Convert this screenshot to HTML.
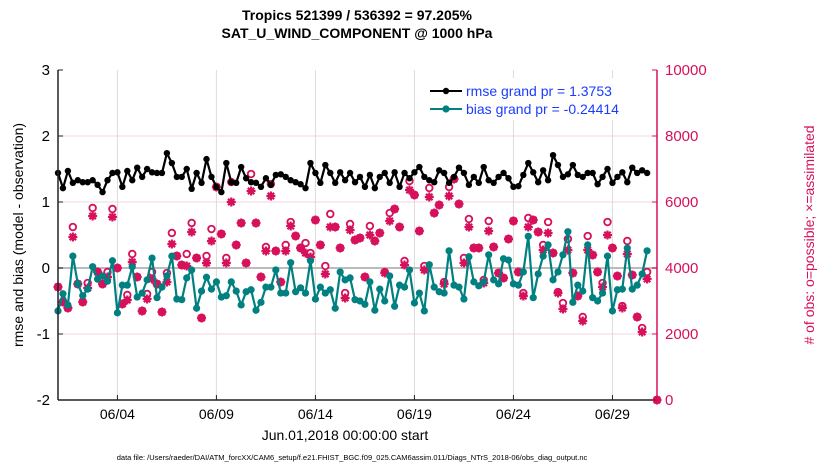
<!DOCTYPE html>
<html><head><meta charset="utf-8"><style>
body{margin:0;background:#fff;}
svg{display:block;font-family:"Liberation Sans",sans-serif;}
</style></head><body>
<svg id="chart" width="830" height="470" viewBox="0 0 830 470" xmlns="http://www.w3.org/2000/svg">
<text x="357" y="20" text-anchor="middle" font-size="14" font-weight="bold">Tropics 521399 / 536392 = 97.205%</text>
<text x="357" y="38" text-anchor="middle" font-size="14" font-weight="bold">SAT_U_WIND_COMPONENT @ 1000 hPa</text>
<g id="grid"></g>
<g id="series"></g>
<g id="axes"></g>
<g>
<rect x="424" y="78" width="230" height="42" fill="#fff"/>
<line x1="430" y1="91" x2="462" y2="91" stroke="#000" stroke-width="2"/>
<circle cx="446" cy="91" r="3.2" fill="#000"/>
<text x="466" y="96" font-size="14" fill="#1a3cff">rmse grand pr = 1.3753</text>
<line x1="430" y1="109" x2="462" y2="109" stroke="#008080" stroke-width="2"/>
<circle cx="446" cy="109" r="3.6" fill="#008080"/>
<text x="466" y="114" font-size="14" fill="#1a3cff">bias grand pr = -0.24414</text>
</g>
<text transform="translate(23,235) rotate(-90)" text-anchor="middle" font-size="14">rmse and bias (model - observation)</text>
<text transform="translate(814,235) rotate(-90)" text-anchor="middle" font-size="14" fill="#d6105a"># of obs: o=possible; ×=assimilated</text>
<text x="345" y="440" text-anchor="middle" font-size="14">Jun.01,2018 00:00:00 start</text>
<text x="352" y="460" text-anchor="middle" font-size="7.5">data file: /Users/raeder/DAI/ATM_forcXX/CAM6_setup/f.e21.FHIST_BGC.f09_025.CAM6assim.011/Diags_NTrS_2018-06/obs_diag_output.nc</text>
</svg>
<script>
const rmse=[1.44,1.21,1.47,1.29,1.33,1.30,1.30,1.33,1.26,1.15,1.33,1.44,1.45,1.23,1.47,1.33,1.52,1.38,1.50,1.45,1.44,1.44,1.74,1.59,1.38,1.38,1.50,1.20,1.44,1.29,1.65,
1.38,1.23,1.15,1.59,1.30,1.29,1.53,1.36,1.30,1.29,1.23,1.36,1.26,1.41,1.42,1.38,1.33,1.30,1.27,1.21,1.59,1.44,1.29,1.56,1.44,1.29,1.45,1.33,1.44,1.30,
1.38,1.23,1.41,1.21,1.38,1.44,1.29,1.45,1.23,1.44,1.36,1.45,1.53,1.38,1.33,1.30,1.48,1.44,1.29,1.38,1.52,1.44,1.26,1.38,1.29,1.53,1.33,1.29,1.38,1.44,
1.36,1.23,1.24,1.41,1.59,1.45,1.30,1.48,1.33,1.71,1.56,1.38,1.42,1.56,1.41,1.38,1.44,1.44,1.27,1.38,1.50,1.29,1.38,1.45,1.30,1.52,1.44,1.48,1.44];
const bias=[-0.65,-0.39,-0.56,0.18,-0.24,-0.42,-0.32,0.02,-0.17,-0.12,-0.20,0.11,-0.68,-0.26,-0.26,0.02,-0.44,-0.38,-0.18,0.15,-0.45,-0.29,-0.12,0.18,-0.47,-0.48,-0.15,-0.03,-0.61,-0.35,-0.14,
-0.32,-0.21,-0.44,-0.42,-0.21,-0.35,-0.56,-0.36,-0.33,-0.64,-0.52,-0.29,-0.29,-0.03,-0.38,-0.38,0.08,-0.36,-0.30,-0.38,0.11,-0.47,-0.29,-0.38,-0.33,-0.61,-0.06,-0.18,-0.15,-0.48,
-0.50,-0.55,-0.21,-0.64,-0.32,-0.50,-0.12,-0.58,-0.26,-0.29,-0.03,-0.53,-0.38,-0.65,0.05,-0.29,-0.36,-0.38,0.26,-0.26,-0.29,-0.47,0.17,-0.21,-0.27,-0.21,0.20,-0.18,-0.24,0.14,
0.12,-0.24,-0.26,-0.06,0.48,-0.45,-0.09,0.18,0.35,-0.18,-0.06,0.20,0.55,-0.52,-0.26,-0.35,0.35,-0.45,-0.50,-0.38,0.18,-0.65,-0.33,-0.32,0.30,-0.32,-0.26,-0.09,0.26];
const assimilated=[3424,2970,2788,4939,3515,2970,3394,5576,3879,3515,3727,5545,4000,2909,3030,4182,3727,2697,3061,3667,3515,2667,3576,4727,4364,4091,4061,5091,4303,2485,4152,
4818,6454,5030,4151,6000,4697,5363,4151,6333,5363,3727,4515,6181,4515,3575,4515,5272,4969,4606,4454,4333,5454,4697,3818,5242,5242,4606,3091,5151,4848,
4909,3727,5000,4818,5060,3848,5424,5787,5242,4090,6363,6212,5121,3939,6151,5666,5909,3515,6181,6696,5939,4151,5242,4606,4606,3545,5121,4636,3848,3697,
4878,5424,3878,3151,5242,5454,5090,4545,5060,4454,3242,2757,4545,3848,3151,2394,4545,4393,3878,3424,5000,4606,3757,2788,4424,3787,2515,2060,3666,0];
const possible=[3424,2970,2788,5242,3515,2970,3545,5818,3879,3515,3879,5788,4000,2909,3182,4424,3727,2697,3212,3879,3515,2667,3848,5061,4364,4091,4424,5364,4303,2485,4364,
5181,6454,5030,4303,6605,4697,5363,4151,6848,5363,3727,4636,6545,4515,3575,4697,5393,4969,4606,4757,4454,5454,4697,4060,5636,5242,4606,3242,5333,4848,
4909,3727,5272,4818,5060,3878,5666,5787,5242,4212,6636,6212,5121,4060,6424,5666,5909,3575,6454,6696,5939,4303,5484,4606,4606,3636,5424,4636,3848,3697,
4878,5424,3878,3242,5515,5454,5090,4697,5393,4454,3272,2939,4878,3848,3151,2515,4969,4393,3878,3545,5393,4606,3757,2848,4818,3787,2515,2181,3878,0];
const leftTicks=[-2,-1,0,1,2,3];
const rightTicks=[0,2000,4000,6000,8000,10000];
const dateTickDays=[3,8,13,18,23,28];
const dateTickLabels=["06/04","06/09","06/14","06/19","06/24","06/29"];
const stepDays=0.25;

const X0=58,X1=657,Y0=400,Y1=70,DMAX=30.25;
const xs=d=>X0+(d/DMAX)*(X1-X0);
const yl=v=>Y0-(v+2)/5*(Y0-Y1);
const yr=v=>Y0-v/10000*(Y0-Y1);
const NS="http://www.w3.org/2000/svg";
function mk(tag,attrs,parent){const e=document.createElementNS(NS,tag);for(const k in attrs)e.setAttribute(k,attrs[k]);parent.appendChild(e);return e;}
const grid=document.getElementById('grid'),ser=document.getElementById('series'),ax=document.getElementById('axes');
const PINK="#d6105a";

leftTicks.forEach(v=>{if(v!==0&&v!==-2&&v!==3){const l=mk('line',{x1:X0,x2:X1,y1:yl(v),y2:yl(v),stroke:'#f0d4e0','stroke-width':1},grid);

}});
dateTickDays.forEach(d=>{const l=mk('line',{x1:xs(d),x2:xs(d),y1:Y1,y2:Y0,stroke:'#dcdcdc','stroke-width':1},grid);

});
const zl=mk('line',{x1:X0,x2:X1,y1:yl(0),y2:yl(0),stroke:'#bbbbbb','stroke-width':2},grid);



// obs markers
function star(cx,cy,p){const s=4.5;mk('path',{d:`M${cx-s},${cy}H${cx+s}M${cx},${cy-s}V${cy+s}M${cx-3.2},${cy-3.2}L${cx+3.2},${cy+3.2}M${cx-3.2},${cy+3.2}L${cx+3.2},${cy-3.2}`,stroke:PINK,'stroke-width':2.2,fill:'none'},p);}
assimilated.forEach((v,i)=>{const g=mk('g',{},ser);


const d=i*stepDays+(i===120?0.25:0);
mk('circle',{cx:xs(d),cy:yr(possible[i]),r:3.3,fill:'#fff',stroke:PINK,'stroke-width':1.8},g);
star(xs(d),yr(v),g);});

function line(vals,color,r,name){let p='';vals.forEach((v,i)=>{p+=(i?'L':'M')+xs(i*stepDays).toFixed(1)+','+yl(v).toFixed(1);});
const pl=mk('path',{d:p,fill:'none',stroke:color,'stroke-width':2.2,'stroke-linejoin':'round'},ser);


vals.forEach((v,i)=>{const c=mk('circle',{cx:xs(i*stepDays),cy:yl(v),r:r,fill:color},ser);

});}
line(bias,'#008080',3.6,'bias');
line(rmse,'#000',3.2,'rmse');

// axes
mk('line',{x1:X0,x2:X0,y1:Y1,y2:Y0,stroke:'#222','stroke-width':1.5},ax);
mk('line',{x1:X0,x2:X1,y1:Y0,y2:Y0,stroke:'#222','stroke-width':1.5},ax);
mk('line',{x1:X1,x2:X1,y1:Y1,y2:Y0,stroke:PINK,'stroke-width':1.5},ax);
leftTicks.forEach(v=>{mk('line',{x1:X0,x2:X0+5,y1:yl(v),y2:yl(v),stroke:'#222'},ax);
const t=mk('text',{x:X0-8,y:yl(v)+5,'text-anchor':'end','font-size':15},ax);t.textContent=v;

});
rightTicks.forEach(v=>{mk('line',{x1:X1-5,x2:X1,y1:yr(v),y2:yr(v),stroke:PINK},ax);
const t=mk('text',{x:X1+8,y:yr(v)+5,'font-size':15,fill:PINK},ax);t.textContent=v;

});
dateTickDays.forEach((d,i)=>{mk('line',{x1:xs(d),x2:xs(d),y1:Y0-5,y2:Y0,stroke:'#222'},ax);
const t=mk('text',{x:xs(d),y:Y0+19,'text-anchor':'middle','font-size':14},ax);t.textContent=dateTickLabels[i];

});
</script>
</body></html>
